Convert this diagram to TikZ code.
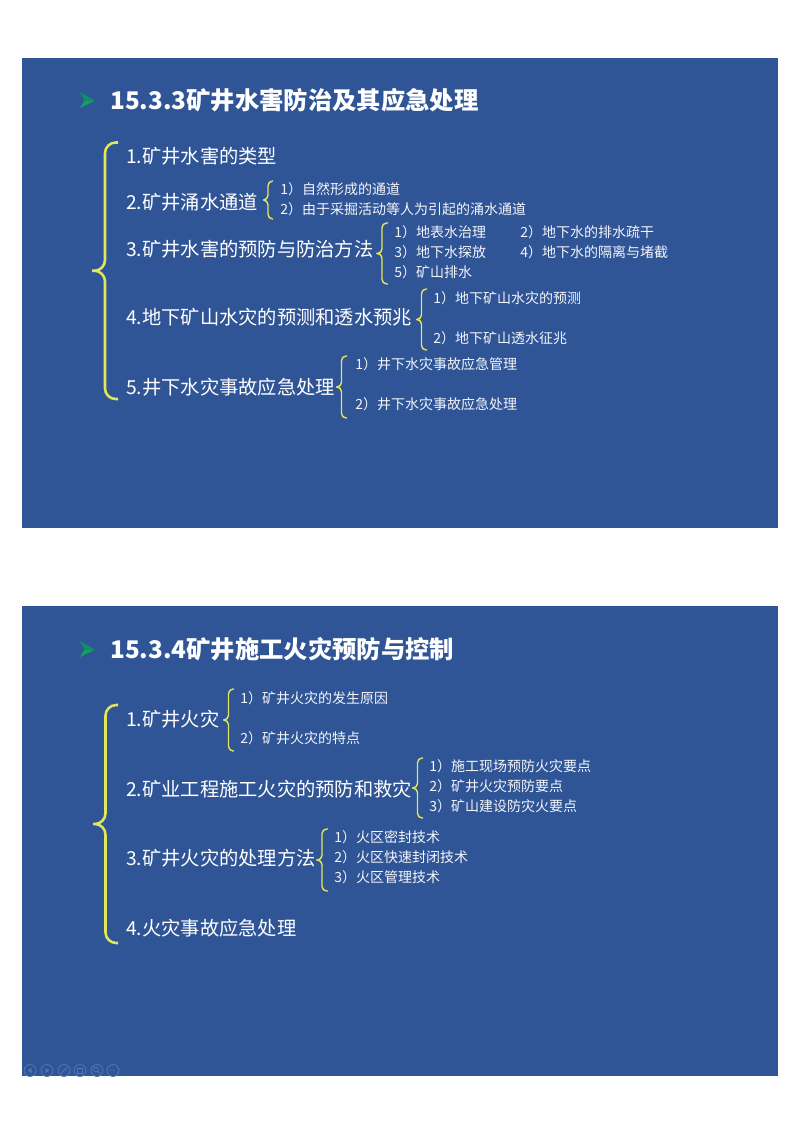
\documentclass[tikz,border=0pt]{standalone}
\usepackage{fontspec}
\setmainfont{Noto Sans CJK SC}
\usetikzlibrary{calc}
\definecolor{panelblue}{HTML}{2F5597}
\definecolor{braceyellow}{HTML}{E4E65A}
\definecolor{bulletgreen}{HTML}{12A35C}
\definecolor{bulletdark}{HTML}{0E8F6A}
\definecolor{toolblue}{HTML}{5577B0}
\tikzset{
  panel/.style={fill=panelblue, draw=none},
  titletext/.style={anchor=west, text=white, font=\fontsize{18.25pt}{20pt}\selectfont\bfseries, inner sep=0pt},
  itemtext/.style={anchor=west, text=white, font=\fontsize{14.45pt}{16pt}\selectfont, inner sep=0pt},
  subtext/.style={anchor=west, text=white!94!panelblue, font=\fontsize{10.5pt}{12pt}\selectfont, inner sep=0pt},
  bigbrace/.style={draw=braceyellow, line width=1.9pt, rounded corners=8pt, line join=round},
  smallbrace/.style={draw=braceyellow, line width=1.05pt, rounded corners=3.5pt, line join=round},
  toolicon/.style={draw=toolblue, line width=.6pt, circle, minimum size=9pt, inner sep=0pt},
  toolmark/.style={draw=toolblue, line width=.6pt}
}
% style, top end, bottom end, half width of the brace
\newcommand{\drawbrace}[4]{
  \draw[#1] (#2) -- ++(-#4, 0) -- ($(#2)!.5!(#3)+(-#4, 0)$) -- ($(#2)!.5!(#3)+(-2*#4, 0)$)
    ($(#2)!.5!(#3)+(-2*#4, 0)$) -- ($(#2)!.5!(#3)+(-#4, 0)$) -- ($(#3)+(-#4, 0)$) -- (#3);
}
\begin{document}
\begin{tikzpicture}[x=.75pt, y=-.75pt]
  \useasboundingbox (0, 0) rectangle (800, 1132);
  \fill[white] (0, 0) rectangle (800, 1132);
  % panels
  \fill[panel] (22, 58) rectangle (778, 528);
  \fill[panel] (22, 606) rectangle (778, 1076);

  % first panel: bullet and title
  \fill[bulletdark] (80, 92) -- (95, 100.5) -- (84.5, 100.5) -- cycle;
  \fill[bulletgreen] (80, 108) -- (95, 100.5) -- (84.5, 100.5) -- cycle;
  \node[titletext] (wtitle) at (110, 100) {15.3.3矿井水害防治及其应急处理};
  % first panel: items
  \node[itemtext] (w1) at (126, 156.5) {1.矿井水害的类型};
  \node[itemtext] (w2) at (126, 202.5) {2.矿井涌水通道};
  \node[itemtext] (w3) at (126, 249.5) {3.矿井水害的预防与防治方法};
  \node[itemtext] (w4) at (126, 317.5) {4.地下矿山水灾的预测和透水预兆};
  \node[itemtext] (w5) at (126, 387.5) {5.井下水灾事故应急处理};
  % first panel: sub items
  \node[subtext] (w21) at (280, 189) {1）自然形成的通道};
  \node[subtext] (w22) at (280, 209) {2）由于采掘活动等人为引起的涌水通道};
  \node[subtext] (w31) at (394, 232) {1）地表水治理};
  \node[subtext] (w32) at (520, 232) {2）地下水的排水疏干};
  \node[subtext] (w33) at (394, 252) {3）地下水探放};
  \node[subtext] (w34) at (520, 252) {4）地下水的隔离与堵截};
  \node[subtext] (w35) at (394, 272) {5）矿山排水};
  \node[subtext] (w41) at (433, 298) {1）地下矿山水灾的预测};
  \node[subtext] (w42) at (433, 338) {2）地下矿山透水征兆};
  \node[subtext] (w51) at (355, 364) {1）井下水灾事故应急管理};
  \node[subtext] (w52) at (355, 404) {2）井下水灾事故应急处理};
  % first panel: braces
  \coordinate (wbt) at (118, 142.5);
  \coordinate (wbb) at (118, 399);
  \coordinate (w2t) at (273, 181);
  \coordinate (w2b) at (273, 219);
  \coordinate (w3t) at (388, 223);
  \coordinate (w3b) at (388, 284);
  \coordinate (w4t) at (427, 289);
  \coordinate (w4b) at (427, 350);
  \coordinate (w5t) at (347, 356);
  \coordinate (w5b) at (347, 418);
  \drawbrace{bigbrace}{wbt}{wbb}{13}
  \drawbrace{smallbrace}{w2t}{w2b}{5}
  \drawbrace{smallbrace}{w3t}{w3b}{6}
  \drawbrace{smallbrace}{w4t}{w4b}{5.5}
  \drawbrace{smallbrace}{w5t}{w5b}{5.5}

  % second panel: bullet and title
  \fill[bulletdark] (80, 641) -- (95, 649.5) -- (84.5, 649.5) -- cycle;
  \fill[bulletgreen] (80, 657) -- (95, 649.5) -- (84.5, 649.5) -- cycle;
  \node[titletext] (ftitle) at (110, 649) {15.3.4矿井施工火灾预防与控制};
  % second panel: items
  \node[itemtext] (f1) at (126, 719.5) {1.矿井火灾};
  \node[itemtext] (f2) at (126, 789.5) {2.矿业工程施工火灾的预防和救灾};
  \node[itemtext] (f3) at (126, 858.5) {3.矿井火灾的处理方法};
  \node[itemtext] (f4) at (126, 928.5) {4.火灾事故应急处理};
  % second panel: sub items
  \node[subtext] (f11) at (240, 698) {1）矿井火灾的发生原因};
  \node[subtext] (f12) at (240, 738) {2）矿井火灾的特点};
  \node[subtext] (f21) at (429, 766) {1）施工现场预防火灾要点};
  \node[subtext] (f22) at (429, 786) {2）矿井火灾预防要点};
  \node[subtext] (f23) at (429, 806) {3）矿山建设防灾火要点};
  \node[subtext] (f31) at (334, 837) {1）火区密封技术};
  \node[subtext] (f32) at (334, 857) {2）火区快速封闭技术};
  \node[subtext] (f33) at (334, 877) {3）火区管理技术};
  % second panel: braces
  \coordinate (fbt) at (118, 705);
  \coordinate (fbb) at (118, 943);
  \coordinate (f1t) at (234, 689);
  \coordinate (f1b) at (234, 751);
  \coordinate (f2t) at (423, 758);
  \coordinate (f2b) at (423, 818);
  \coordinate (f3t) at (328, 829);
  \coordinate (f3b) at (328, 891);
  \drawbrace{bigbrace}{fbt}{fbb}{12.5}
  \drawbrace{smallbrace}{f1t}{f1b}{5.5}
  \drawbrace{smallbrace}{f2t}{f2b}{5.5}
  \drawbrace{smallbrace}{f3t}{f3b}{6}

  % toolbar
  \foreach \x/\n in {30/a, 47/b, 64/c, 80/d, 97/e, 113/f}
    \node[toolicon] (tool\n) at (\x, 1070.5) {};
  \fill[toolblue] (28, 1070.5) -- (31.5, 1068) -- (31.5, 1073) -- cycle;
  \fill[toolblue] (49, 1070.5) -- (45.5, 1068) -- (45.5, 1073) -- cycle;
  \draw[toolmark] (61, 1073.5) -- (67, 1067.5);
  \draw[toolmark] (77.5, 1068) rectangle (82.5, 1073);
  \draw[toolmark] (96, 1069.5) circle (2.5) (98, 1071.5) -- (100, 1073.5);
  \draw[toolmark, dotted] (110, 1070.5) -- (116, 1070.5);
\end{tikzpicture}
\end{document}
